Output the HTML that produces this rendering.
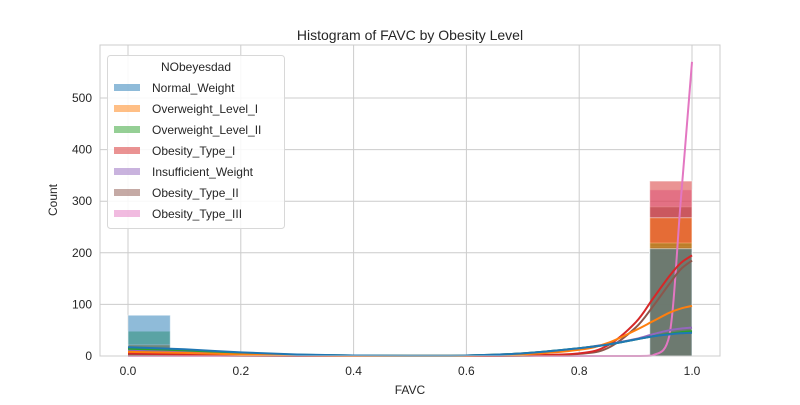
<!DOCTYPE html>
<html><head><meta charset="utf-8"><style>
body{margin:0;background:#fff;}
svg text{font-family:"Liberation Sans",Arial,sans-serif;fill:#262626;}
</style></head><body>
<svg id="chart" width="800" height="400" xmlns="http://www.w3.org/2000/svg">
<rect width="800" height="400" fill="#fff"/>
<g id="grid"></g>
<g id="bars"></g>
<g id="curves"></g>
<g id="axes"></g>
<g id="legend"></g>
</svg>
<script>
const categories = ["Normal_Weight","Overweight_Level_I","Overweight_Level_II","Obesity_Type_I","Insufficient_Weight","Obesity_Type_II","Obesity_Type_III"];
const colors = ["#1f77b4","#ff7f0e","#2ca02c","#d62728","#9467bd","#8c564b","#e377c2"];
const countsAt0 = [79, 22, 48, 12, 20, 7, 1];
const countsAt1 = [208, 268, 219, 339, 212, 289, 322];
const kdeX = [0,0.1,0.2,0.3,0.4,0.5,0.6,0.7,0.8,0.85,0.9,0.93,0.96,0.98,1.0];
const kdeNormal = [17,13,7,3,1,0.5,1,5,15,22,32,38,42,44,45];
const kdeOw1 = [8,6,3,1,0.3,0.2,0.5,3,12,25,50,67,84,92,97];
const kdeOw2 = [14,11,6,2.5,1,0.5,1,5,15,22,32,38,43,46,48];
const kdeOb1 = [5,3,1,0.2,0,0,0,1,5,20,65,110,155,180,195];
const kdeInsuf = [12,9,5,2,1,0.5,1,5,15,23,33,42,50,53,55];
const kdeOb2 = [3,2,0.5,0,0,0,0,0.5,4,15,55,95,140,168,185];
const kdeOb3 = [0,0,0,0,0,0,0,0,0,0,0,1,40,300,570];
const kdeSeries = [kdeNormal,kdeOw1,kdeOw2,kdeOb1,kdeInsuf,kdeOb2,kdeOb3];
const xTicks = [0,0.2,0.4,0.6,0.8,1.0];
const yTicks = [0,100,200,300,400,500];
const binWidth = 0.075;

const L=100,R=720,T=45,B=356;
const xs = v => 128 + v*564;
const ys = v => 356 - v*0.516;
const NS="http://www.w3.org/2000/svg";
function mk(tag, attrs, parent){const e=document.createElementNS(NS,tag);for(const k in attrs)e.setAttribute(k,attrs[k]);parent.appendChild(e);return e;}

const grid=document.getElementById('grid');
xTicks.forEach(t=>{const l=mk('line',{x1:xs(t),x2:xs(t),y1:T,y2:B,stroke:'#cccccc','stroke-width':1},grid);

});
yTicks.forEach(t=>{const l=mk('line',{x1:L,x2:R,y1:ys(t),y2:ys(t),stroke:'#cccccc','stroke-width':1},grid);

});

const bars=document.getElementById('bars');
for(let i=categories.length-1;i>=0;i--){
  const c=categories[i];
  [[0,countsAt0[i]],[1-binWidth,countsAt1[i]]].forEach(([x0,v])=>{
    const r=mk('rect',{x:xs(x0),y:ys(v),width:xs(x0+binWidth)-xs(x0),height:ys(0)-ys(v),fill:colors[i],'fill-opacity':0.5,stroke:'#fff','stroke-opacity':0.5,'stroke-width':1},bars);
    
    
  });
}

const curves=document.getElementById('curves');
for(let i=kdeSeries.length-1;i>=0;i--){
  const s=kdeSeries[i];
  const pts=kdeX.map((x,j)=>[xs(x),ys(s[j])]);
  let d='M'+pts[0][0]+','+pts[0][1];
  for(let j=0;j<pts.length-1;j++){
    const p0=pts[Math.max(0,j-1)],p1=pts[j],p2=pts[j+1],p3=pts[Math.min(pts.length-1,j+2)];
    const c1=[p1[0]+(p2[0]-p0[0])/6, Math.min(B,p1[1]+(p2[1]-p0[1])/6)];
    const c2=[p2[0]-(p3[0]-p1[0])/6, Math.min(B,p2[1]-(p3[1]-p1[1])/6)];
    d+=' C'+c1.join(',')+' '+c2.join(',')+' '+p2.join(',');
  }
  const p=mk('path',{d:d,fill:'none',stroke:colors[i],'stroke-width':2},curves);
  
  
}

const axes=document.getElementById('axes');
const fr=mk('rect',{x:L,y:T,width:R-L,height:B-T,fill:'none',stroke:'#cccccc','stroke-width':1},axes);


xTicks.forEach(t=>{const tx=mk('text',{x:xs(t),y:375,'text-anchor':'middle','font-size':12},axes);tx.textContent=t.toFixed(1);

});
yTicks.forEach(t=>{const tx=mk('text',{x:92,y:ys(t)+4,'text-anchor':'end','font-size':12},axes);tx.textContent=t;

});
</script>
<svg style="position:absolute;left:0;top:0" width="800" height="400" xmlns="http://www.w3.org/2000/svg">
<text x="410" y="40" text-anchor="middle" font-size="14">Histogram of FAVC by Obesity Level</text>
<text x="410" y="394" text-anchor="middle" font-size="12">FAVC</text>
<text x="57" y="200" text-anchor="middle" font-size="12" transform="rotate(-90 57 200)">Count</text>
<g>
<rect x="107.5" y="55.5" width="177" height="173" rx="3" fill="#fff" fill-opacity="0.85" stroke="#d8d8d8"/>
<text x="196" y="71" text-anchor="middle" font-size="12">NObeyesdad</text>
<g font-size="12">
<rect x="114" y="84" width="26" height="7" fill="#1f77b4" fill-opacity="0.5"/><text x="152" y="92">Normal_Weight</text>
<rect x="114" y="105" width="26" height="7" fill="#ff7f0e" fill-opacity="0.5"/><text x="152" y="113">Overweight_Level_I</text>
<rect x="114" y="126" width="26" height="7" fill="#2ca02c" fill-opacity="0.5"/><text x="152" y="134">Overweight_Level_II</text>
<rect x="114" y="147" width="26" height="7" fill="#d62728" fill-opacity="0.5"/><text x="152" y="155">Obesity_Type_I</text>
<rect x="114" y="168" width="26" height="7" fill="#9467bd" fill-opacity="0.5"/><text x="152" y="176">Insufficient_Weight</text>
<rect x="114" y="189" width="26" height="7" fill="#8c564b" fill-opacity="0.5"/><text x="152" y="197">Obesity_Type_II</text>
<rect x="114" y="210" width="26" height="7" fill="#e377c2" fill-opacity="0.5"/><text x="152" y="218">Obesity_Type_III</text>
</g></g>
</svg>
</body></html>
